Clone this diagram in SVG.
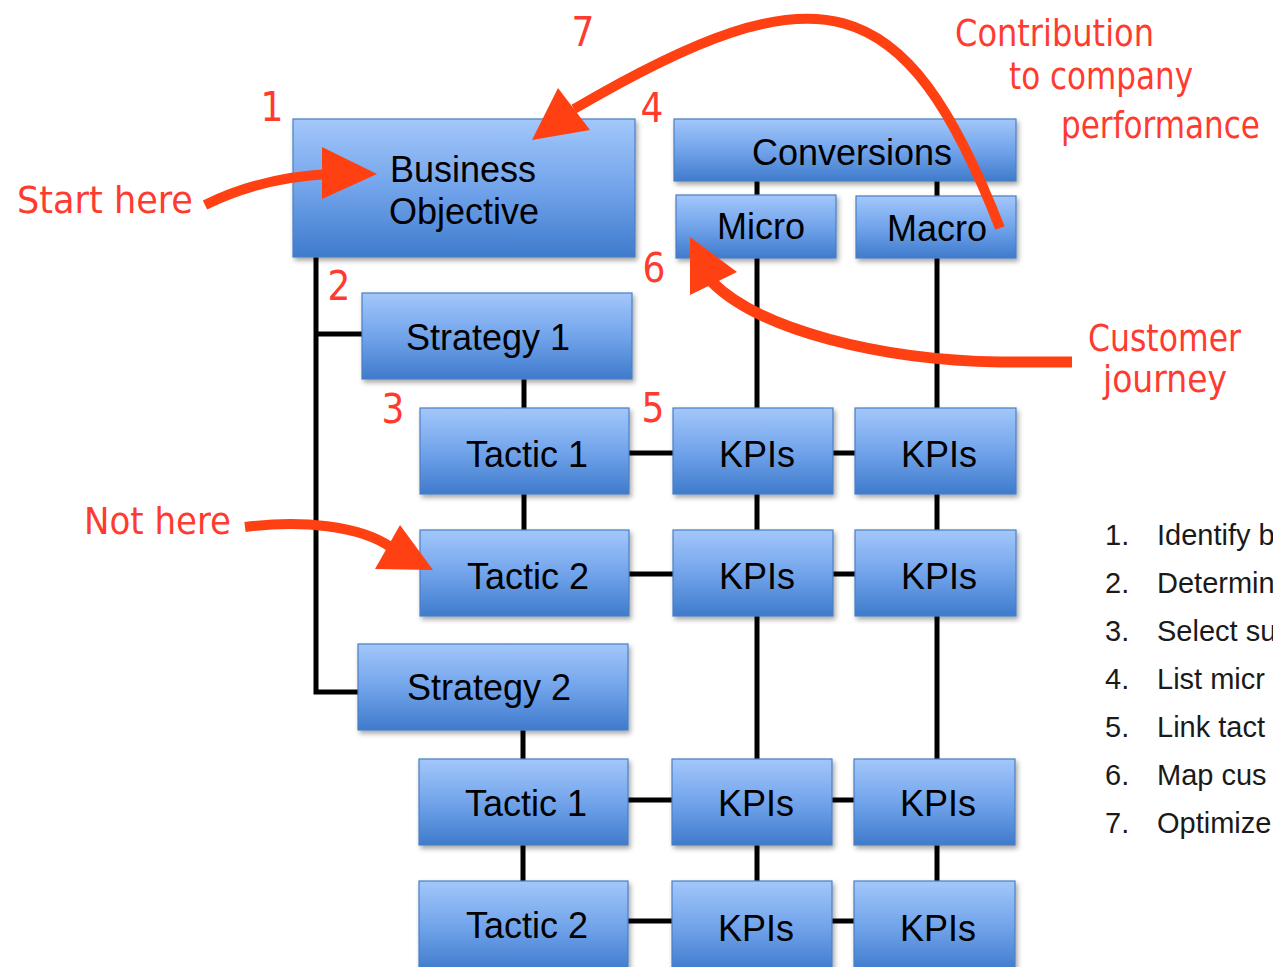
<svg xmlns="http://www.w3.org/2000/svg" width="1273" height="967" viewBox="0 0 1273 967">
<defs>
<linearGradient id="g" x1="0" y1="0" x2="0" y2="1">
<stop offset="0" stop-color="#a3c7fa"/>
<stop offset="0.5" stop-color="#72a4eb"/>
<stop offset="1" stop-color="#3f7bcc"/>
</linearGradient>
<filter id="sh" x="-10%" y="-10%" width="125%" height="130%">
<feDropShadow dx="2" dy="3" stdDeviation="2.5" flood-color="#000" flood-opacity="0.35"/>
</filter>
<style>
.box{fill:url(#g);stroke:#4a7fc3;stroke-width:1.2;filter:url(#sh)}
.t{font-family:"Liberation Sans",Arial,sans-serif;font-size:36px;fill:#000;text-anchor:middle}
.c{fill:none;stroke:#000;stroke-width:5}
.ra{fill:none;stroke:#ff4012;stroke-width:10;stroke-linecap:butt}
.rh{fill:#ff4012}
.rl{font-family:"DejaVu Sans Condensed","DejaVu Sans",sans-serif;font-size:38px;fill:#ff3b30}
.n{font-family:"DejaVu Sans Condensed","DejaVu Sans",sans-serif;font-size:40px;fill:#ff3b30;text-anchor:middle}
.li{font-family:"Liberation Sans",Arial,sans-serif;font-size:29px;fill:#1a1a1a}
</style>
</defs>
<rect width="1273" height="967" fill="#fff"/>
<g id="connectors">
<path class="c" d="M316,257 V692 H358 M316,334 H362"/>
<path class="c" d="M524,379 V408 M524,494 V530 M523,730 V759 M523,845 V881"/>
<path class="c" d="M629,453 H673 M833,453 H855 M629,574 H673 M833,574 H855 M628,800 H672 M832,800 H854 M628,921 H672 M832,921 H854"/>
<path class="c" d="M757,181 V195 M757,258 V408 M757,494 V530 M757,616 V759 M757,845 V881"/>
<path class="c" d="M937,181 V196 M937,258 V408 M937,494 V530 M937,616 V759 M937,845 V881"/>
</g>
<g id="business-objective"><rect class="box" x="293" y="119" width="342" height="138"/><text class="t" x="463" y="182">Business</text><text class="t" x="464" y="224">Objective</text></g>
<g id="conversions"><rect class="box" x="674" y="119" width="342" height="62"/><text class="t" x="852" y="165">Conversions</text></g>
<g id="micro"><rect class="box" x="676" y="195" width="160" height="63"/><text class="t" x="761" y="239">Micro</text></g>
<g id="macro"><rect class="box" x="856" y="196" width="160" height="62"/><text class="t" x="937" y="241">Macro</text></g>
<g id="strategy-1"><rect class="box" x="362" y="293" width="270" height="86"/><text class="t" x="488" y="350">Strategy 1</text></g>
<g id="tactic-1a"><rect class="box" x="420" y="408" width="209" height="86"/><text class="t" x="527" y="467">Tactic 1</text></g>
<g id="kpi-1a"><rect class="box" x="673" y="408" width="160" height="86"/><text class="t" x="757" y="467">KPIs</text></g>
<g id="kpi-1b"><rect class="box" x="855" y="408" width="161" height="86"/><text class="t" x="939" y="467">KPIs</text></g>
<g id="tactic-2a"><rect class="box" x="420" y="530" width="209" height="86"/><text class="t" x="528" y="589">Tactic 2</text></g>
<g id="kpi-2a"><rect class="box" x="673" y="530" width="160" height="86"/><text class="t" x="757" y="589">KPIs</text></g>
<g id="kpi-2b"><rect class="box" x="855" y="530" width="161" height="86"/><text class="t" x="939" y="589">KPIs</text></g>
<g id="strategy-2"><rect class="box" x="358" y="644" width="270" height="86"/><text class="t" x="489" y="700">Strategy 2</text></g>
<g id="tactic-1b"><rect class="box" x="419" y="759" width="209" height="86"/><text class="t" x="526" y="816">Tactic 1</text></g>
<g id="kpi-3a"><rect class="box" x="672" y="759" width="160" height="86"/><text class="t" x="756" y="816">KPIs</text></g>
<g id="kpi-3b"><rect class="box" x="854" y="759" width="161" height="86"/><text class="t" x="938" y="816">KPIs</text></g>
<g id="tactic-2b"><rect class="box" x="419" y="881" width="209" height="90"/><text class="t" x="527" y="938">Tactic 2</text></g>
<g id="kpi-4a"><rect class="box" x="672" y="881" width="160" height="90"/><text class="t" x="756" y="941">KPIs</text></g>
<g id="kpi-4b"><rect class="box" x="854" y="881" width="161" height="90"/><text class="t" x="938" y="941">KPIs</text></g>
<g id="annotations">
<path class="ra" d="M205,205 Q262,177 330,174"/>
<polygon class="rh" points="322,147 377,174 322,199"/>
<path class="ra" d="M1000,228 C905,-15 820,-35 574,109"/>
<polygon class="rh" points="558,88 532,140 590,130"/>
<path class="ra" style="stroke-width:11" d="M1072,362 L1000,362 C880,360 760,330 712,282"/>
<polygon class="rh" points="690,237 737,272 690,295"/>
<path class="ra" d="M245,527 C300,520 360,525 392,548"/>
<polygon class="rh" points="400,525 375,569 433,570"/>
<text class="rl" x="17" y="213" textLength="176" lengthAdjust="spacingAndGlyphs">Start here</text>
<text class="rl" x="84" y="534" textLength="147" lengthAdjust="spacingAndGlyphs">Not here</text>
<text class="rl" x="955" y="46" textLength="199" lengthAdjust="spacingAndGlyphs">Contribution</text>
<text class="rl" x="1009" y="89" textLength="184" lengthAdjust="spacingAndGlyphs">to company</text>
<text class="rl" x="1061" y="138" textLength="199" lengthAdjust="spacingAndGlyphs">performance</text>
<text class="rl" x="1088" y="351" textLength="153" lengthAdjust="spacingAndGlyphs">Customer</text>
<text class="rl" x="1103" y="392" textLength="124" lengthAdjust="spacingAndGlyphs">journey</text>
<text class="n" x="272" y="121">1</text>
<text class="n" x="339" y="300">2</text>
<text class="n" x="393" y="423">3</text>
<text class="n" x="652" y="122">4</text>
<text class="n" x="653" y="422">5</text>
<text class="n" x="654" y="282">6</text>
<text class="n" x="583" y="46">7</text>
</g>
<g id="steps">
<text class="li" x="1105" y="545">1.</text><text class="li" x="1157" y="545">Identify b</text>
<text class="li" x="1105" y="593">2.</text><text class="li" x="1157" y="593">Determin</text>
<text class="li" x="1105" y="641">3.</text><text class="li" x="1157" y="641">Select su</text>
<text class="li" x="1105" y="689">4.</text><text class="li" x="1157" y="689">List micr</text>
<text class="li" x="1105" y="737">5.</text><text class="li" x="1157" y="737">Link tact</text>
<text class="li" x="1105" y="785">6.</text><text class="li" x="1157" y="785">Map cus</text>
<text class="li" x="1105" y="833">7.</text><text class="li" x="1157" y="833">Optimize</text>
</g>
</svg>
